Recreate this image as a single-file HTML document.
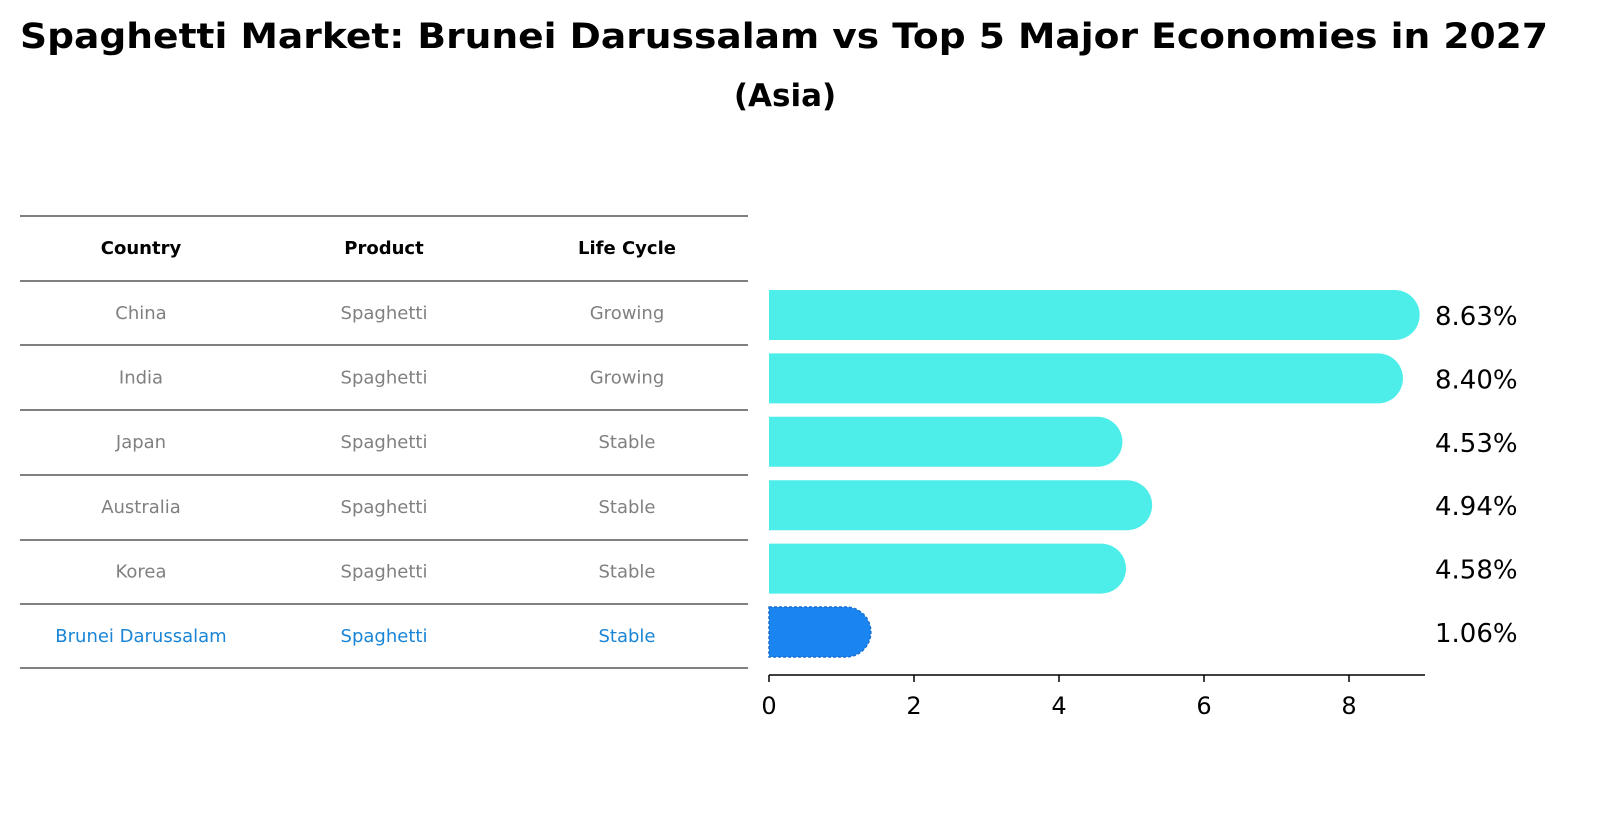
<!DOCTYPE html>
<html><head><meta charset="utf-8"><style>
html,body{margin:0;padding:0;background:#fff;overflow:hidden;width:1617px;height:823px;}
svg{display:block;}
</style></head><body>
<svg width="1617" height="823" viewBox="0 0 1617 823" xmlns="http://www.w3.org/2000/svg" style="font-family:'DejaVu Sans','Liberation Sans',sans-serif">
<text x="784" y="48" text-anchor="middle" font-size="35" font-weight="bold" textLength="1528" lengthAdjust="spacingAndGlyphs">Spaghetti Market: Brunei Darussalam vs Top 5 Major Economies in 2027</text>
<text x="785" y="106" text-anchor="middle" font-size="31" font-weight="bold">(Asia)</text>
<g id="table"></g>
<g id="bars"></g>
</svg>
<script>
const countries=["China","India","Japan","Australia","Korea","Brunei Darussalam"];
const products=["Spaghetti","Spaghetti","Spaghetti","Spaghetti","Spaghetti","Spaghetti"];
const lifeCycles=["Growing","Growing","Stable","Stable","Stable","Stable"];
const values=[8.63,8.40,4.53,4.94,4.58,1.06];
const valueLabels=["8.63%","8.40%","4.53%","4.94%","4.58%","1.06%"];
const xTicks=[0,2,4,6,8];
const NS="http://www.w3.org/2000/svg";
function mk(t,a,p){const e=document.createElementNS(NS,t);for(const k in a)e.setAttribute(k,a[k]);p.appendChild(e);return e;}
const tbl=document.getElementById('table');
const lineYs=[216,281,345,410,475,540,604,668];
lineYs.forEach(y=>{const l=mk('line',{x1:20,x2:748,y1:y,y2:y,stroke:'#000','stroke-width':1},tbl);

});
const colX=[141,384,627];
["Country","Product","Life Cycle"].forEach((h,i)=>{const t=mk('text',{x:colX[i],y:254,'text-anchor':'middle','font-size':18,'font-weight':'bold'},tbl);t.textContent=h;

});
countries.forEach((c,r)=>{const y=313+r*64.6+6;const col=r===countries.length-1?'#1a85d6':'#808080';
[c,products[r],lifeCycles[r]].forEach((v,i)=>{const t=mk('text',{x:colX[i],y:y,'text-anchor':'middle','font-size':18,fill:col},tbl);t.textContent=v;

});});
const g=document.getElementById('bars');
const x0=769,sc=72.5,xs=v=>x0+v*sc;
const r=25;
values.forEach((v,i)=>{const cy=315+i*63.4;const last=i===values.length-1;
const xe=xs(v);
const d=`M${x0},${cy-r} L${xe},${cy-r} A${r},${r} 0 0 1 ${xe},${cy+r} L${x0},${cy+r} Z`;
const p=mk('path',{d:d,fill:last?'#1a85f0':'#4deeea'},g);
if(last){p.setAttribute('stroke','#1a6fd0');p.setAttribute('stroke-dasharray','3,2');p.setAttribute('stroke-width','1.5');}


const t=mk('text',{x:1435,y:cy+10,'font-size':26},g);t.textContent=valueLabels[i];

});
const ax=mk('line',{x1:x0,x2:1425,y1:675,y2:675,stroke:'#000','stroke-width':1.5},g);


xTicks.forEach(v=>{const tk=mk('line',{x1:xs(v),x2:xs(v),y1:675,y2:682,stroke:'#000','stroke-width':1.5},g);


const t=mk('text',{x:xs(v),y:714,'text-anchor':'middle','font-size':24},g);t.textContent=v;

});
</script>
</body></html>
